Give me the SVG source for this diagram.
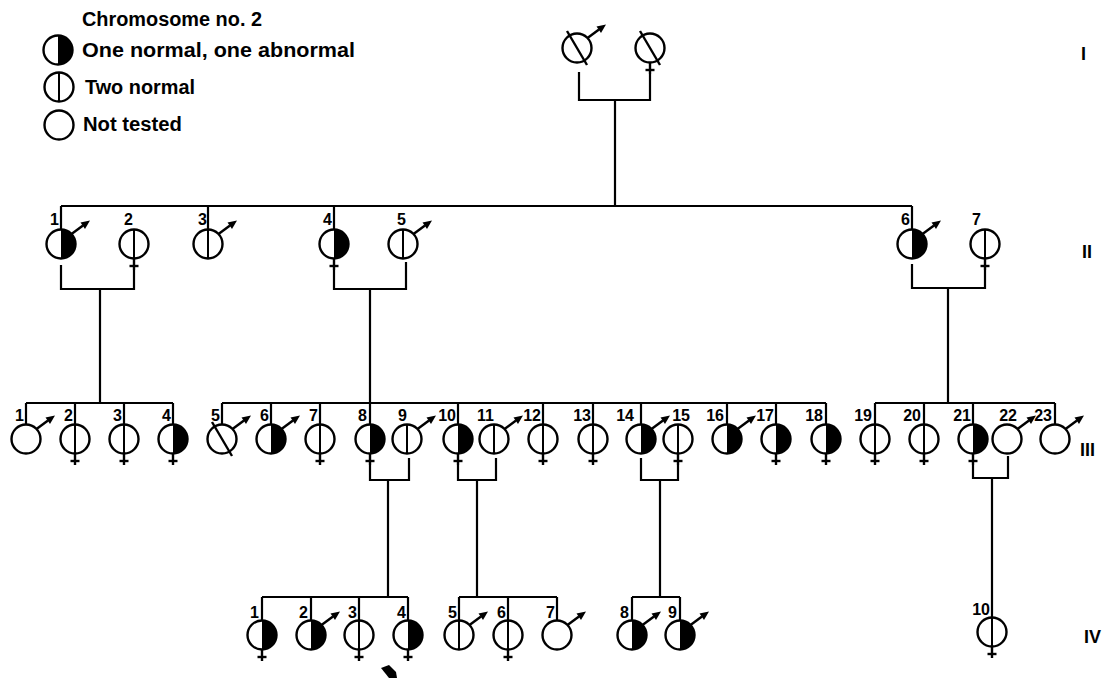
<svg xmlns="http://www.w3.org/2000/svg" xmlns:xlink="http://www.w3.org/1999/xlink" width="1109" height="678" viewBox="0 0 1109 678">
<style>
.sym{fill:#fff;stroke:#000;stroke-width:2.4}
.ln{fill:none;stroke:#000;stroke-width:2.2}
.lb{font-family:"Liberation Sans",Arial,sans-serif;font-weight:bold;font-size:16px;text-anchor:end;fill:#000}
.lg{font-family:"Liberation Sans",Arial,sans-serif;font-weight:bold;font-size:20px;fill:#000}
.gen{font-family:"Liberation Sans",Arial,sans-serif;font-weight:bold;font-size:18px;fill:#000}
</style>
<defs>
<circle id="c" r="14.5" class="sym"/>
<path id="h" d="M0,-14.5 A14.5,14.5 0 0 1 0,14.5 Z" fill="#000"/>
<line id="d" x1="0" y1="-14.5" x2="0" y2="14.5" stroke="#000" stroke-width="2"/>
<g id="f" stroke="#000" stroke-width="2.4"><line x1="0" y1="14.5" x2="0" y2="26"/><line x1="-4.5" y1="22" x2="4.5" y2="22"/></g>
<g id="m"><line x1="10.5" y1="-10" x2="22" y2="-18.5" stroke="#000" stroke-width="2.4"/><polygon points="29,-23.5 24,-15 19.5,-21.5" fill="#000"/></g>
<line id="s" x1="-10" y1="-17" x2="10" y2="17" stroke="#000" stroke-width="2.4"/>
</defs>
<rect width="1109" height="678" fill="#fff"/>

<g id="legend">
<text class="lg" x="82" y="26" textLength="180" lengthAdjust="spacingAndGlyphs">Chromosome no. 2</text>
<use href="#c" x="58" y="50"/><use href="#h" x="58" y="50"/>
<text class="lg" x="82" y="57" textLength="273" lengthAdjust="spacingAndGlyphs">One normal, one abnormal</text>
<use href="#c" x="59" y="87"/><use href="#d" x="59" y="87"/>
<text class="lg" x="85" y="94" textLength="110" lengthAdjust="spacingAndGlyphs">Two normal</text>
<use href="#c" x="59" y="125"/>
<text class="lg" x="83" y="131" textLength="99" lengthAdjust="spacingAndGlyphs">Not tested</text>
</g>

<g id="generations">
<text class="gen" x="1081" y="60">I</text>
<text class="gen" x="1082" y="258">II</text>
<text class="gen" x="1080" y="456">III</text>
<text class="gen" x="1084" y="643">IV</text>
</g>

<g id="connectors" class="ln">
<path d="M579,72 V100 H650 V74 M615,100 V206"/>
<path d="M61,206 H912 M61,206 V229.5 M208,206 V229.5 M334,206 V229.5 M912,206 V229.5"/>
<path d="M61,265 V289 H134 V270 M100,289 V403"/>
<path d="M334,270 V289 H406 V262 M370,289 V403"/>
<path d="M912,264 V288 H985 V270 M948,288 V403"/>
<path d="M26,403 H173 M26,403 V424.5 M75,403 V424.5 M124,403 V424.5 M173,403 V424.5"/>
<path d="M222,403 H826 M222,403 V424.5 M271,403 V424.5 M320,403 V424.5 M370,403 V424.5 M458,403 V424.5 M543,403 V424.5 M593,403 V424.5 M641,403 V424.5 M727,403 V424.5 M776,403 V424.5 M826,403 V424.5"/>
<path d="M875,403 H1055 M875,403 V424.5 M924,403 V424.5 M973,403 V424.5 M1055,403 V424.5"/>
<path d="M370,465 V480 H409 V458 M388,480 V597"/>
<path d="M458,465 V480 H496 V458 M477,480 V597"/>
<path d="M641,458 V480 H678 V465 M660,480 V597"/>
<path d="M973,465 V478 H1008 V456 M992,478 V617.5"/>
<path d="M262,597 H408 M262,597 V620.5 M311,597 V620.5 M359,597 V620.5 M408,597 V620.5"/>
<path d="M459,597 H557 M459,597 V620.5 M508,597 V620.5 M557,597 V620.5"/>
<path d="M632,597 H680 M632,597 V620.5 M680,597 V620.5"/>
</g>

<g id="I-1"><use href="#c" x="577" y="48"/><use href="#s" x="577" y="48"/><use href="#m" x="577" y="48"/></g>
<g id="I-2"><use href="#c" x="650" y="48"/><use href="#s" x="650" y="48"/><use href="#f" x="650" y="48"/></g>

<g id="II-1"><use href="#c" x="61" y="244"/><use href="#h" x="61" y="244"/><use href="#m" x="61" y="244"/><text class="lb" x="59" y="225">1</text></g>
<g id="II-2"><use href="#c" x="134" y="244"/><use href="#d" x="134" y="244"/><use href="#f" x="134" y="244"/><text class="lb" x="133" y="225">2</text></g>
<g id="II-3"><use href="#c" x="208" y="244"/><use href="#d" x="208" y="244"/><use href="#m" x="208" y="244"/><text class="lb" x="207" y="225">3</text></g>
<g id="II-4"><use href="#c" x="334" y="244"/><use href="#h" x="334" y="244"/><use href="#f" x="334" y="244"/><text class="lb" x="332" y="225">4</text></g>
<g id="II-5"><use href="#c" x="403" y="244"/><use href="#d" x="403" y="244"/><use href="#m" x="403" y="244"/><text class="lb" x="406" y="225">5</text></g>
<g id="II-6"><use href="#c" x="912" y="244"/><use href="#h" x="912" y="244"/><use href="#m" x="912" y="244"/><text class="lb" x="910" y="225">6</text></g>
<g id="II-7"><use href="#c" x="985" y="244"/><use href="#d" x="985" y="244"/><use href="#f" x="985" y="244"/><text class="lb" x="981" y="225">7</text></g>

<g id="III-1"><use href="#c" x="26" y="439"/><use href="#m" x="26" y="439"/><text class="lb" x="24" y="421">1</text></g>
<g id="III-2"><use href="#c" x="75" y="439"/><use href="#d" x="75" y="439"/><use href="#f" x="75" y="439"/><text class="lb" x="73" y="421">2</text></g>
<g id="III-3"><use href="#c" x="124" y="439"/><use href="#d" x="124" y="439"/><use href="#f" x="124" y="439"/><text class="lb" x="122" y="421">3</text></g>
<g id="III-4"><use href="#c" x="173" y="439"/><use href="#h" x="173" y="439"/><use href="#f" x="173" y="439"/><text class="lb" x="171" y="421">4</text></g>
<g id="III-5"><use href="#c" x="222" y="439"/><use href="#s" x="222" y="439"/><use href="#m" x="222" y="439"/><text class="lb" x="220" y="421">5</text></g>
<g id="III-6"><use href="#c" x="271" y="439"/><use href="#h" x="271" y="439"/><use href="#m" x="271" y="439"/><text class="lb" x="269" y="421">6</text></g>
<g id="III-7"><use href="#c" x="320" y="439"/><use href="#d" x="320" y="439"/><use href="#f" x="320" y="439"/><text class="lb" x="318" y="421">7</text></g>
<g id="III-8"><use href="#c" x="370" y="439"/><use href="#h" x="370" y="439"/><use href="#f" x="370" y="439"/><text class="lb" x="367" y="421">8</text></g>
<g id="III-9"><use href="#c" x="407" y="439"/><use href="#d" x="407" y="439"/><use href="#m" x="407" y="439"/><text class="lb" x="407" y="421">9</text></g>
<g id="III-10"><use href="#c" x="458" y="439"/><use href="#h" x="458" y="439"/><use href="#f" x="458" y="439"/><text class="lb" x="456" y="421">10</text></g>
<g id="III-11"><use href="#c" x="494" y="439"/><use href="#d" x="494" y="439"/><use href="#m" x="494" y="439"/><text class="lb" x="494" y="421">11</text></g>
<g id="III-12"><use href="#c" x="543" y="439"/><use href="#d" x="543" y="439"/><use href="#f" x="543" y="439"/><text class="lb" x="541" y="421">12</text></g>
<g id="III-13"><use href="#c" x="593" y="439"/><use href="#d" x="593" y="439"/><use href="#f" x="593" y="439"/><text class="lb" x="591" y="421">13</text></g>
<g id="III-14"><use href="#c" x="641" y="439"/><use href="#h" x="641" y="439"/><use href="#m" x="641" y="439"/><text class="lb" x="634" y="421">14</text></g>
<g id="III-15"><use href="#c" x="678" y="439"/><use href="#d" x="678" y="439"/><use href="#f" x="678" y="439"/><text class="lb" x="690" y="421">15</text></g>
<g id="III-16"><use href="#c" x="727" y="439"/><use href="#h" x="727" y="439"/><use href="#m" x="727" y="439"/><text class="lb" x="724" y="421">16</text></g>
<g id="III-17"><use href="#c" x="776" y="439"/><use href="#h" x="776" y="439"/><use href="#f" x="776" y="439"/><text class="lb" x="774" y="421">17</text></g>
<g id="III-18"><use href="#c" x="826" y="439"/><use href="#h" x="826" y="439"/><use href="#f" x="826" y="439"/><text class="lb" x="823" y="421">18</text></g>
<g id="III-19"><use href="#c" x="875" y="439"/><use href="#d" x="875" y="439"/><use href="#f" x="875" y="439"/><text class="lb" x="872" y="421">19</text></g>
<g id="III-20"><use href="#c" x="924" y="439"/><use href="#d" x="924" y="439"/><use href="#f" x="924" y="439"/><text class="lb" x="921" y="421">20</text></g>
<g id="III-21"><use href="#c" x="973" y="439"/><use href="#h" x="973" y="439"/><use href="#f" x="973" y="439"/><text class="lb" x="971" y="421">21</text></g>
<g id="III-22"><use href="#c" x="1007" y="439"/><use href="#m" x="1007" y="439"/><text class="lb" x="1017" y="421">22</text></g>
<g id="III-23"><use href="#c" x="1055" y="439"/><use href="#m" x="1055" y="439"/><text class="lb" x="1052" y="421">23</text></g>

<g id="IV-1"><use href="#c" x="262" y="635"/><use href="#h" x="262" y="635"/><use href="#f" x="262" y="635"/><text class="lb" x="259" y="618">1</text></g>
<g id="IV-2"><use href="#c" x="311" y="635"/><use href="#h" x="311" y="635"/><use href="#m" x="311" y="635"/><text class="lb" x="308" y="618">2</text></g>
<g id="IV-3"><use href="#c" x="359" y="635"/><use href="#d" x="359" y="635"/><use href="#f" x="359" y="635"/><text class="lb" x="357" y="618">3</text></g>
<g id="IV-4"><use href="#c" x="408" y="635"/><use href="#h" x="408" y="635"/><use href="#f" x="408" y="635"/><text class="lb" x="406" y="618">4</text></g>
<g id="IV-5"><use href="#c" x="459" y="635"/><use href="#d" x="459" y="635"/><use href="#m" x="459" y="635"/><text class="lb" x="457" y="618">5</text></g>
<g id="IV-6"><use href="#c" x="508" y="635"/><use href="#d" x="508" y="635"/><use href="#f" x="508" y="635"/><text class="lb" x="506" y="618">6</text></g>
<g id="IV-7"><use href="#c" x="557" y="635"/><use href="#m" x="557" y="635"/><text class="lb" x="555" y="618">7</text></g>
<g id="IV-8"><use href="#c" x="632" y="635"/><use href="#h" x="632" y="635"/><use href="#m" x="632" y="635"/><text class="lb" x="629" y="618">8</text></g>
<g id="IV-9"><use href="#c" x="680" y="635"/><use href="#h" x="680" y="635"/><use href="#m" x="680" y="635"/><text class="lb" x="677" y="618">9</text></g>
<g id="IV-10"><use href="#c" x="992" y="632"/><use href="#d" x="992" y="632"/><use href="#f" x="992" y="632"/><text class="lb" x="990" y="615">10</text></g>

<polygon id="smudge" points="381,668 389,665 396,672 397,678 389,678" fill="#000"/>
</svg>
